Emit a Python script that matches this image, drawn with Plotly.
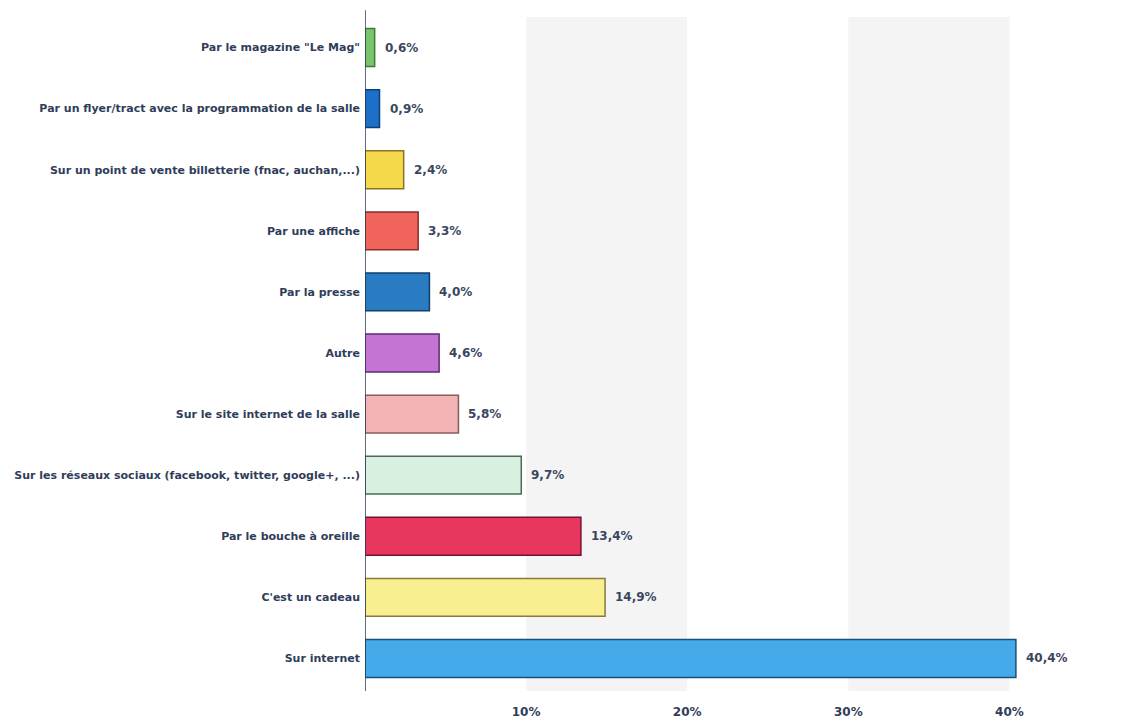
import plotly.graph_objects as go

categories = [
    'Par le magazine "Le Mag"',
    "Par un flyer/tract avec la programmation de la salle",
    "Sur un point de vente billetterie (fnac, auchan,...)",
    "Par une affiche",
    "Par la presse",
    "Autre",
    "Sur le site internet de la salle",
    "Sur les réseaux sociaux (facebook, twitter, google+, ...)",
    "Par le bouche à oreille",
    "C'est un cadeau",
    "Sur internet",
]
values = [0.6, 0.9, 2.4, 3.3, 4.0, 4.6, 5.8, 9.7, 13.4, 14.9, 40.4]
value_labels = ["0,6%", "0,9%", "2,4%", "3,3%", "4,0%", "4,6%", "5,8%", "9,7%", "13,4%", "14,9%", "40,4%"]
bar_colors = ["#7cc46c", "#1c70c8", "#f6d84c", "#f0645c", "#2a7cc2", "#c474d4",
              "#f2b4b4", "#d8f0e0", "#e8365e", "#f9ee90", "#44aaea"]
outline_colors = ["#3d7a3a", "#0d3f7a", "#8a7424", "#8a2c2c", "#123f6a", "#5e2a72",
                  "#8a5a5a", "#4a6a5a", "#7a1030", "#8a7a40", "#1a4f7a"]
tick_vals = [10, 20, 30, 40]
tick_text = ["10%", "20%", "30%", "40%"]
shaded_bands = [(10, 20), (30, 40)]

text_color = "#2f3d5a"
value_color = "#3a4660"
font_family = "DejaVu Sans, Arial"

fig = go.Figure(go.Bar(
    x=values, y=categories, orientation="h",
    marker=dict(color=bar_colors, line=dict(color=outline_colors, width=1.5)),
    width=0.62,
    hoverinfo="x+y",
))

annotations = []
for cat, val, lab in zip(categories, values, value_labels):
    annotations.append(dict(x=val, y=cat, xref="x", yref="y", text=lab, showarrow=False,
                            xanchor="left", xshift=8,
                            font=dict(family=font_family, size=12, color=value_color, weight="bold")))

shapes = []
for a, b in shaded_bands:
    shapes.append(dict(type="rect", xref="x", yref="paper", x0=a, x1=b, y0=-0.003, y1=1.0,
                       fillcolor="#f4f4f4", line=dict(width=0), layer="below"))
shapes.append(dict(type="line", xref="x", yref="paper", x0=0, x1=0, y0=-0.003, y1=1.01,
                   line=dict(color="#2b3a55", width=1.5)))

fig.update_layout(
    width=1144, height=720,
    margin=dict(l=357, r=62, t=9, b=39, autoexpand=False),
    paper_bgcolor="white", plot_bgcolor="white",
    showlegend=False,
    shapes=shapes,
    annotations=annotations,
    font=dict(family=font_family, size=11, color=text_color),
    xaxis=dict(range=[0, 45], tickvals=tick_vals, ticktext=tick_text, showgrid=False,
               zeroline=False, showline=False, ticks="", ticklabelstandoff=14,
               automargin=False,
               tickfont=dict(family=font_family, size=12, color=text_color, weight="bold")),
    yaxis=dict(categoryorder="array", categoryarray=categories, autorange="reversed",
               showgrid=False, zeroline=False, showline=False, ticks="",
               ticklabelstandoff=4, automargin=False,
               tickfont=dict(family=font_family, size=11, color=text_color, weight="bold")),
)

fig.write_html("out.html")
